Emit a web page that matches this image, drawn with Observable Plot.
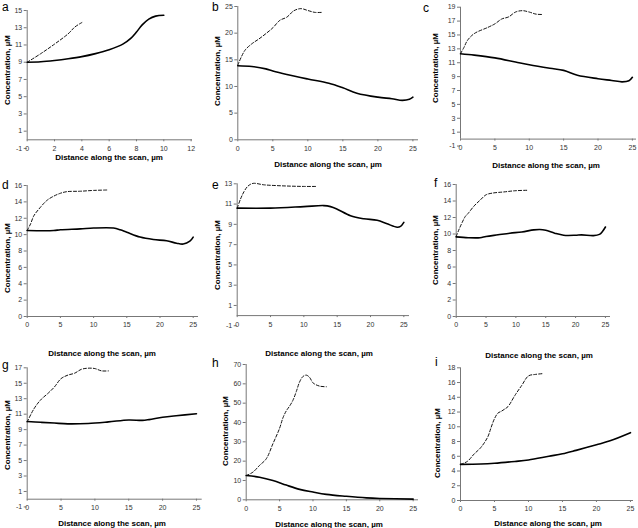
<!DOCTYPE html>
<html><head><meta charset="utf-8">
<script src="https://cdn.jsdelivr.net/npm/d3@7"></script>
<script src="https://cdn.jsdelivr.net/npm/@observablehq/plot@0.6"></script>
<style>
body{margin:0;background:#fff}
#wrap{position:relative;width:638px;height:528px;font-family:"Liberation Sans",Arial,sans-serif;color:#000}
.panel{position:absolute}
.letter{position:absolute;font-size:12px;line-height:1}
.xt{position:absolute;font-weight:bold;font-size:8px;white-space:nowrap;transform:translate(-50%,-50%)}
.yt{position:absolute;font-weight:bold;font-size:8px;white-space:nowrap;transform:translate(-50%,-50%) rotate(-90deg)}
</style>
</head><body>
<div id="wrap"></div>
<script>
// ---- data ----
const panelLetters = ["a","b","c","d","e","f","g","h","i"];
const xTitle = "Distance along the scan, \u00b5m";
const yTitle = "Concentration, \u00b5M";

const xTicksA = [0,2,4,6,8,10,12];
const xTicks25 = [0,5,10,15,20,25];
const yTicksA = [-1,1,3,5,7,9,11,13,15];
const yTicksB = [0,5,10,15,20,25];
const yTicksC = [-1,1,3,5,7,9,11,13,15,17,19];
const yTicksD = [0,2,4,6,8,10,12,14,16];
const yTicksE = [-1,1,3,5,7,9,11,13];
const yTicksF = [0,2,4,6,8,10,12,14,16];
const yTicksG = [-1,1,3,5,7,9,11,13,15,17];
const yTicksH = [0,10,20,30,40,50,60,70];
const yTicksI = [0,2,4,6,8,10,12,14,16,18];

const solidA = [[0,9],[1,9.05],[2,9.2],[3,9.4],[4,9.65],[5,10.0],[6,10.45],[7,11.1],[7.6,11.8],[8,12.5],[8.4,13.3],[8.9,14.0],[9.4,14.35],[10,14.45]];
const dashA = [[0,9],[1,10.0],[2,11.1],[3,12.3],[3.5,13.1],[4,13.6]];
const solidB = [[0,13.9],[2,13.75],[4,13.3],[5,12.9],[7,12.25],[10,11.4],[13,10.6],[15,9.75],[17,8.75],[20,8.0],[22,7.7],[23.5,7.4],[24.5,7.6],[25,8.0]];
const dashB = [[0,14],[1,16.75],[2,18],[3,18.9],[4,19.9],[5,21],[6,22.4],[7,23],[8,24.2],[9,24.6],[10,24.25],[11,23.9],[12,23.9]];
const solidC = [[0,12.3],[2,12.1],[5,11.7],[8,11.1],[10,10.7],[13,10.2],[15,9.9],[17,9.2],[20,8.7],[22,8.45],[23.5,8.25],[24.5,8.4],[25,8.9]];
const dashC = [[0,12.3],[0.5,13.2],[1,14.2],[2,15.2],[4,16.1],[5,16.6],[6,17.3],[7,17.6],[8,18.3],[9,18.5],[10,18.3],[11,18.0],[12,17.95]];
const solidD = [[0,10.5],[4,10.5],[5,10.6],[8,10.7],[10,10.8],[13,10.8],[14,10.6],[15,10.3],[17,9.7],[19,9.4],[21,9.25],[22.5,8.95],[23.5,8.85],[24.5,9.2],[25,9.7]];
const dashD = [[0,10.5],[0.5,11.3],[1,12.3],[2,13.35],[3,14.2],[4,14.7],[5,15.05],[6,15.25],[8,15.3],[10,15.4],[12,15.45]];
const solidE = [[0,10.6],[5,10.6],[10,10.75],[13,10.85],[14,10.75],[15,10.5],[17,9.85],[19,9.55],[21,9.4],[22.5,9.05],[24,8.72],[24.5,8.8],[25,9.2]];
const dashE = [[0,10.6],[0.5,11.5],[1,12.2],[1.5,12.7],[2,12.95],[2.5,13.05],[4,12.9],[6,12.82],[8,12.77],[10,12.74],[12,12.74]];
const solidF = [[0,9.65],[2,9.55],[4,9.55],[5,9.7],[7,9.9],[9,10.1],[11,10.25],[13,10.5],[14,10.55],[15,10.45],[16.5,10.1],[18,9.85],[20,9.85],[21,9.9],[23,9.8],[24,9.95],[24.5,10.3],[25,10.85]];
const dashF = [[0,9.7],[0.5,10.6],[1,11.4],[1.5,12.1],[2,12.5],[3,13.4],[4,14.1],[5,14.75],[6,14.95],[8,15.1],[10,15.25],[12,15.3]];
const solidG = [[0,10.05],[2,9.95],[4,9.85],[6,9.75],[9,9.8],[12,10.0],[15,10.25],[17,10.2],[18,10.3],[20,10.6],[22,10.8],[25,11.05]];
const dashG = [[0,10],[1,11.7],[2,12.86],[3,13.64],[4,14.5],[5,15.6],[6,16.05],[7,16.3],[8,16.8],[9,16.95],[10,16.9],[11,16.6],[12,16.6]];
const solidH = [[0,12.6],[2,11.7],[4,10],[6,7.6],[8,5.4],[10,4],[12,2.8],[15,1.8],[18,1.0],[20,0.7],[25,0.35]];
const dashH = [[0,12.5],[1,14.3],[2,17.8],[3,21.2],[4,29],[5,37],[5.5,42.4],[6,46],[6.5,48.5],[7,51.5],[7.5,56],[8,61],[8.5,63.8],[9,64.5],[9.5,63.3],[10,60.5],[11,58.8],[12,58.5]];
const solidI = [[0,4.9],[3,4.95],[5,5.05],[8,5.3],[10,5.5],[13,6.0],[15,6.33],[17,6.8],[20,7.56],[22,8.1],[25,9.2]];
const dashI = [[0,4.9],[1,5.3],[2,6.3],[3,7.2],[4,8.6],[4.5,9.9],[5,11.1],[5.5,11.85],[6,12.1],[6.5,12.4],[7,12.75],[8,14.25],[9,15.6],[10,16.9],[11,17.1],[12,17.2]];

const series = [
  {solid: solidA, dash: dashA, xt: xTicksA, yt: yTicksA},
  {solid: solidB, dash: dashB, xt: xTicks25, yt: yTicksB},
  {solid: solidC, dash: dashC, xt: xTicks25, yt: yTicksC},
  {solid: solidD, dash: dashD, xt: xTicks25, yt: yTicksD},
  {solid: solidE, dash: dashE, xt: xTicks25, yt: yTicksE},
  {solid: solidF, dash: dashF, xt: xTicks25, yt: yTicksF},
  {solid: solidG, dash: dashG, xt: xTicks25, yt: yTicksG},
  {solid: solidH, dash: dashH, xt: xTicks25, yt: yTicksH},
  {solid: solidI, dash: dashI, xt: xTicks25, yt: yTicksI}
];

// ---- layout (pixel boxes of each panel) ----
const layout = [
  {left:0,   top:0,   w:210, h:170, fl:26.7,  fr:192, ft:10,    fb:139.3, xmax:12.1,  lx:2,   ly:1,   xtx:109, xty:157, ytx:7,   yty:70},
  {left:210, top:0,   w:210, h:170, fl:237.3, fr:418, ft:6,     fb:139.3, xmax:25.8,  lx:212, ly:1,   xtx:328, xty:164, ytx:217, yty:71},
  {left:420, top:0,   w:218, h:170, fl:460,   fr:636, ft:6.7,   fb:138.6, xmax:25.6,  lx:423, ly:2,   xtx:546, xty:165, ytx:435, yty:68},
  {left:0,   top:170, w:210, h:170, fl:26.7,  fr:198, ft:185,   fb:316,   xmax:25.8,  lx:2,   ly:179, xtx:102, xty:353, ytx:7,   yty:258},
  {left:210, top:170, w:210, h:170, fl:236.7, fr:409, ft:183.3, fb:315.1, xmax:25.85, lx:212, ly:179, xtx:319, xty:353, ytx:217, yty:255},
  {left:420, top:170, w:218, h:170, fl:455.7, fr:610, ft:184,   fb:316,   xmax:25.85, lx:434, ly:177, xtx:539, xty:355, ytx:435, yty:250},
  {left:0,   top:340, w:210, h:188, fl:26.7,  fr:201.7, ft:367.3, fb:498.7, xmax:25.85, lx:2, ly:359, xtx:112, xty:523, ytx:7,   yty:435},
  {left:210, top:340, w:210, h:188, fl:245.7, fr:418, ft:364,   fb:499.3, xmax:25.8,  lx:212, ly:357, xtx:329, xty:524, ytx:225, yty:431},
  {left:420, top:340, w:218, h:188, fl:460,   fr:633, ft:367.3, fb:500,   xmax:25.45, lx:435, ly:356, xtx:548, xty:523, ytx:437, yty:443}
];

const wrap = document.getElementById("wrap");
series.forEach((s, i) => {
  const L = layout[i];
  const ymax = s.yt[s.yt.length - 1];
  const px = d => d[0], py = d => d[1];
  const chart = Plot.plot({
    width: L.w, height: L.h,
    marginLeft: L.fl - L.left, marginRight: L.left + L.w - L.fr,
    marginTop: L.ft - L.top, marginBottom: L.top + L.h - L.fb,
    style: {fontFamily: "'Liberation Sans', Arial, sans-serif", color: "#333", background: "transparent", overflow: "visible"},
    x: {domain: [0, L.xmax]},
    y: {domain: [0, ymax]},
    marks: [
      Plot.axisY({ticks: s.yt, tickFormat: d => String(d), tickSize: 3, tickPadding: 2, fontSize: 7, label: null, stroke: "#777"}),
      Plot.axisX({ticks: s.xt, tickFormat: d => String(d), tickSize: 2, tickPadding: 4, fontSize: 7, label: null, stroke: "#777"}),
      Plot.ruleX([0], {y1: 0, y2: ymax, stroke: "#777", strokeWidth: 1}),
      Plot.ruleY([0], {x1: 0, x2: L.xmax, stroke: "#777", strokeWidth: 1}),
      Plot.line(s.dash, {x: px, y: py, stroke: "#111", strokeWidth: 1, strokeDasharray: "3,2", curve: "catmull-rom"}),
      Plot.line(s.solid, {x: px, y: py, stroke: "#000", strokeWidth: 1.6, curve: "catmull-rom"})
    ]
  });
  chart.classList.add("panel");
  chart.style.left = L.left + "px";
  chart.style.top = L.top + "px";
  wrap.appendChild(chart);

  const let_ = document.createElement("div");
  let_.className = "letter"; let_.textContent = panelLetters[i];
  let_.style.left = L.lx + "px"; let_.style.top = L.ly + "px";
  wrap.appendChild(let_);

  const xt = document.createElement("div");
  xt.className = "xt"; xt.textContent = xTitle;
  xt.style.left = L.xtx + "px"; xt.style.top = L.xty + "px";
  wrap.appendChild(xt);

  const yt = document.createElement("div");
  yt.className = "yt"; yt.textContent = yTitle;
  yt.style.left = L.ytx + "px"; yt.style.top = L.yty + "px";
  wrap.appendChild(yt);
});
</script>
</body></html>
